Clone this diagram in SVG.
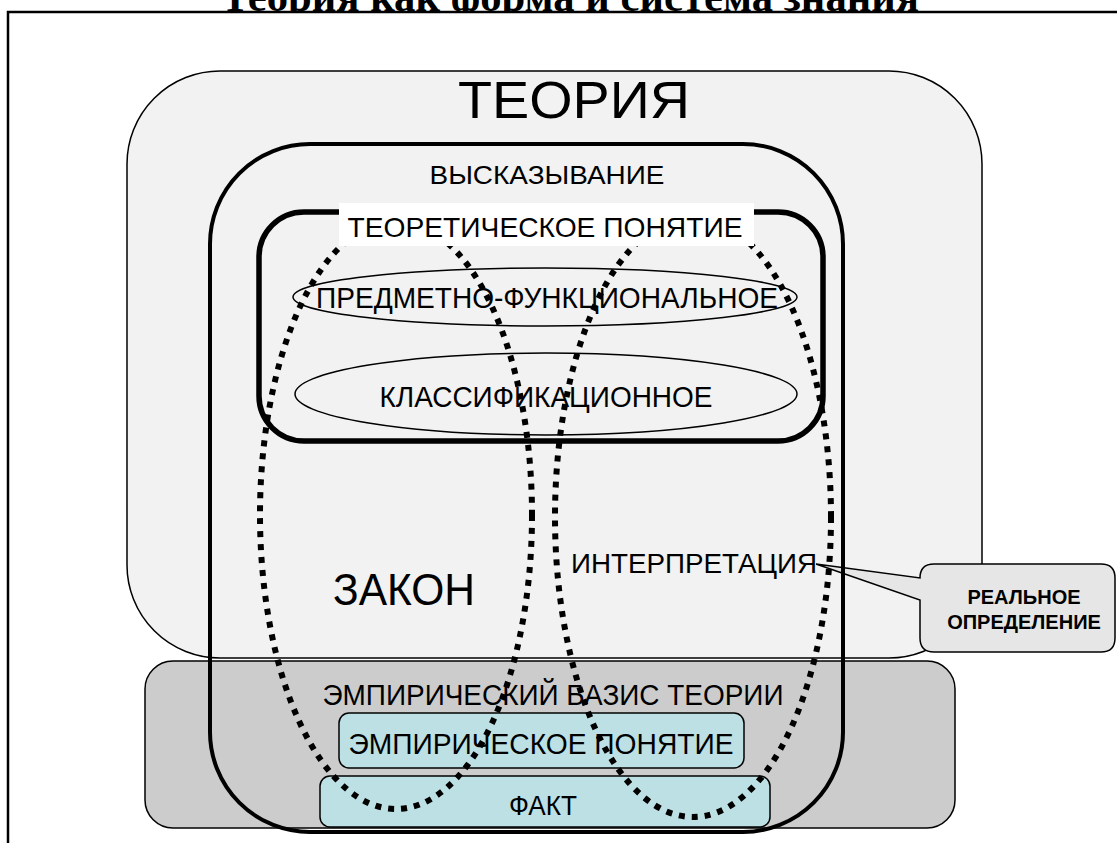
<svg xmlns="http://www.w3.org/2000/svg" width="1117" height="843" viewBox="0 0 1117 843">
  <style>
    .t { font-family: "Liberation Sans", Arial, sans-serif; fill: #000; text-anchor: middle; }
    .thin { stroke: #000; stroke-width: 1.5; }
    .dots { fill: none; stroke: #000; stroke-width: 6; stroke-dasharray: 6 7; }
    .cyan { fill: #bce0e3; stroke: #000; stroke-width: 1.5; }
  </style>
  <defs>
    <clipPath id="above-frame">
      <rect x="0" y="0" width="1117" height="12"/>
    </clipPath>
  </defs>

  <!-- page frame and heading -->
  <g id="frame">
    <text x="570" y="11" clip-path="url(#above-frame)" font-family="'Liberation Serif', 'Times New Roman', serif" font-weight="bold" font-size="42" text-anchor="middle" textLength="698" lengthAdjust="spacingAndGlyphs">Теория как форма и система знания</text>
    <path d="M8 843 V12 H1117" fill="none" stroke="#000" stroke-width="2.5"/>
  </g>

  <g id="theory">
    <rect x="127" y="71" width="855" height="587" rx="93" fill="#f2f2f2" class="thin"/>
    <text class="t" x="574" y="118" font-size="52" textLength="232" lengthAdjust="spacingAndGlyphs">ТЕОРИЯ</text>
  </g>

  <g id="empirical-basis">
    <rect x="145" y="661" width="810" height="167" rx="28" fill="#cccccc" class="thin"/>
  </g>

  <g id="real-definition">
    <path d="M934 564 H1101 Q1115 564 1115 578 V638 Q1115 652 1101 652 H934 Q920 652 920 638 V600 L816 564 L920 578 Q920 564 934 564 Z" fill="#e6e6e6" class="thin"/>
    <text class="t" x="1024" y="604" font-size="20" font-weight="bold">РЕАЛЬНОЕ</text>
    <text class="t" x="1024" y="629" font-size="20" font-weight="bold">ОПРЕДЕЛЕНИЕ</text>
  </g>

  <g id="statement">
    <rect x="210" y="144" width="633" height="688" rx="100" fill="none" stroke="#000" stroke-width="4"/>
    <text class="t" x="547" y="184" font-size="26" textLength="235" lengthAdjust="spacingAndGlyphs">ВЫСКАЗЫВАНИЕ</text>
  </g>

  <g id="theoretical-concept">
    <rect x="259" y="212" width="564" height="229" rx="45" fill="none" stroke="#000" stroke-width="5.5"/>
  </g>

  <g id="subject-functional">
    <ellipse cx="545" cy="297" rx="252" ry="29" fill="none" class="thin"/>
    <text class="t" x="547" y="308" font-size="29" textLength="462" lengthAdjust="spacingAndGlyphs">ПРЕДМЕТНО-ФУНКЦИОНАЛЬНОЕ</text>
  </g>

  <g id="classificational">
    <ellipse cx="546" cy="394" rx="251" ry="41" fill="none" class="thin"/>
    <text class="t" x="546" y="407" font-size="29" textLength="333" lengthAdjust="spacingAndGlyphs">КЛАССИФИКАЦИОННОЕ</text>
  </g>

  <g id="empirical-concept">
    <rect x="339" y="713" width="405" height="55" rx="10" class="cyan"/>
    <text class="t" x="541" y="754" font-size="30" textLength="385" lengthAdjust="spacingAndGlyphs">ЭМПИРИЧЕСКОЕ ПОНЯТИЕ</text>
  </g>

  <g id="fact">
    <rect x="320" y="776" width="450" height="51" rx="10" class="cyan"/>
    <text class="t" x="543" y="815" font-size="28" textLength="68" lengthAdjust="spacingAndGlyphs">ФАКТ</text>
  </g>

  <g id="labels">
    <text class="t" x="404" y="605" font-size="44" textLength="142" lengthAdjust="spacingAndGlyphs">ЗАКОН</text>
    <text class="t" x="694" y="573" font-size="27" textLength="246" lengthAdjust="spacingAndGlyphs">ИНТЕРПРЕТАЦИЯ</text>
    <text class="t" x="553" y="705" font-size="30" textLength="461" lengthAdjust="spacingAndGlyphs">ЭМПИРИЧЕСКИЙ БАЗИС ТЕОРИИ</text>
  </g>

  <!-- dotted contours: law and interpretation -->
  <g id="connectors">
    <ellipse id="law" class="dots" cx="396" cy="515" rx="136" ry="294"/>
    <ellipse id="interpretation" class="dots" cx="693" cy="517" rx="138" ry="300"/>
  </g>

  <g id="theoretical-concept-label">
    <rect x="339" y="203" width="415" height="43" fill="#fff"/>
    <text class="t" x="545" y="237" font-size="28" textLength="395" lengthAdjust="spacingAndGlyphs">ТЕОРЕТИЧЕСКОЕ ПОНЯТИЕ</text>
  </g>
</svg>
